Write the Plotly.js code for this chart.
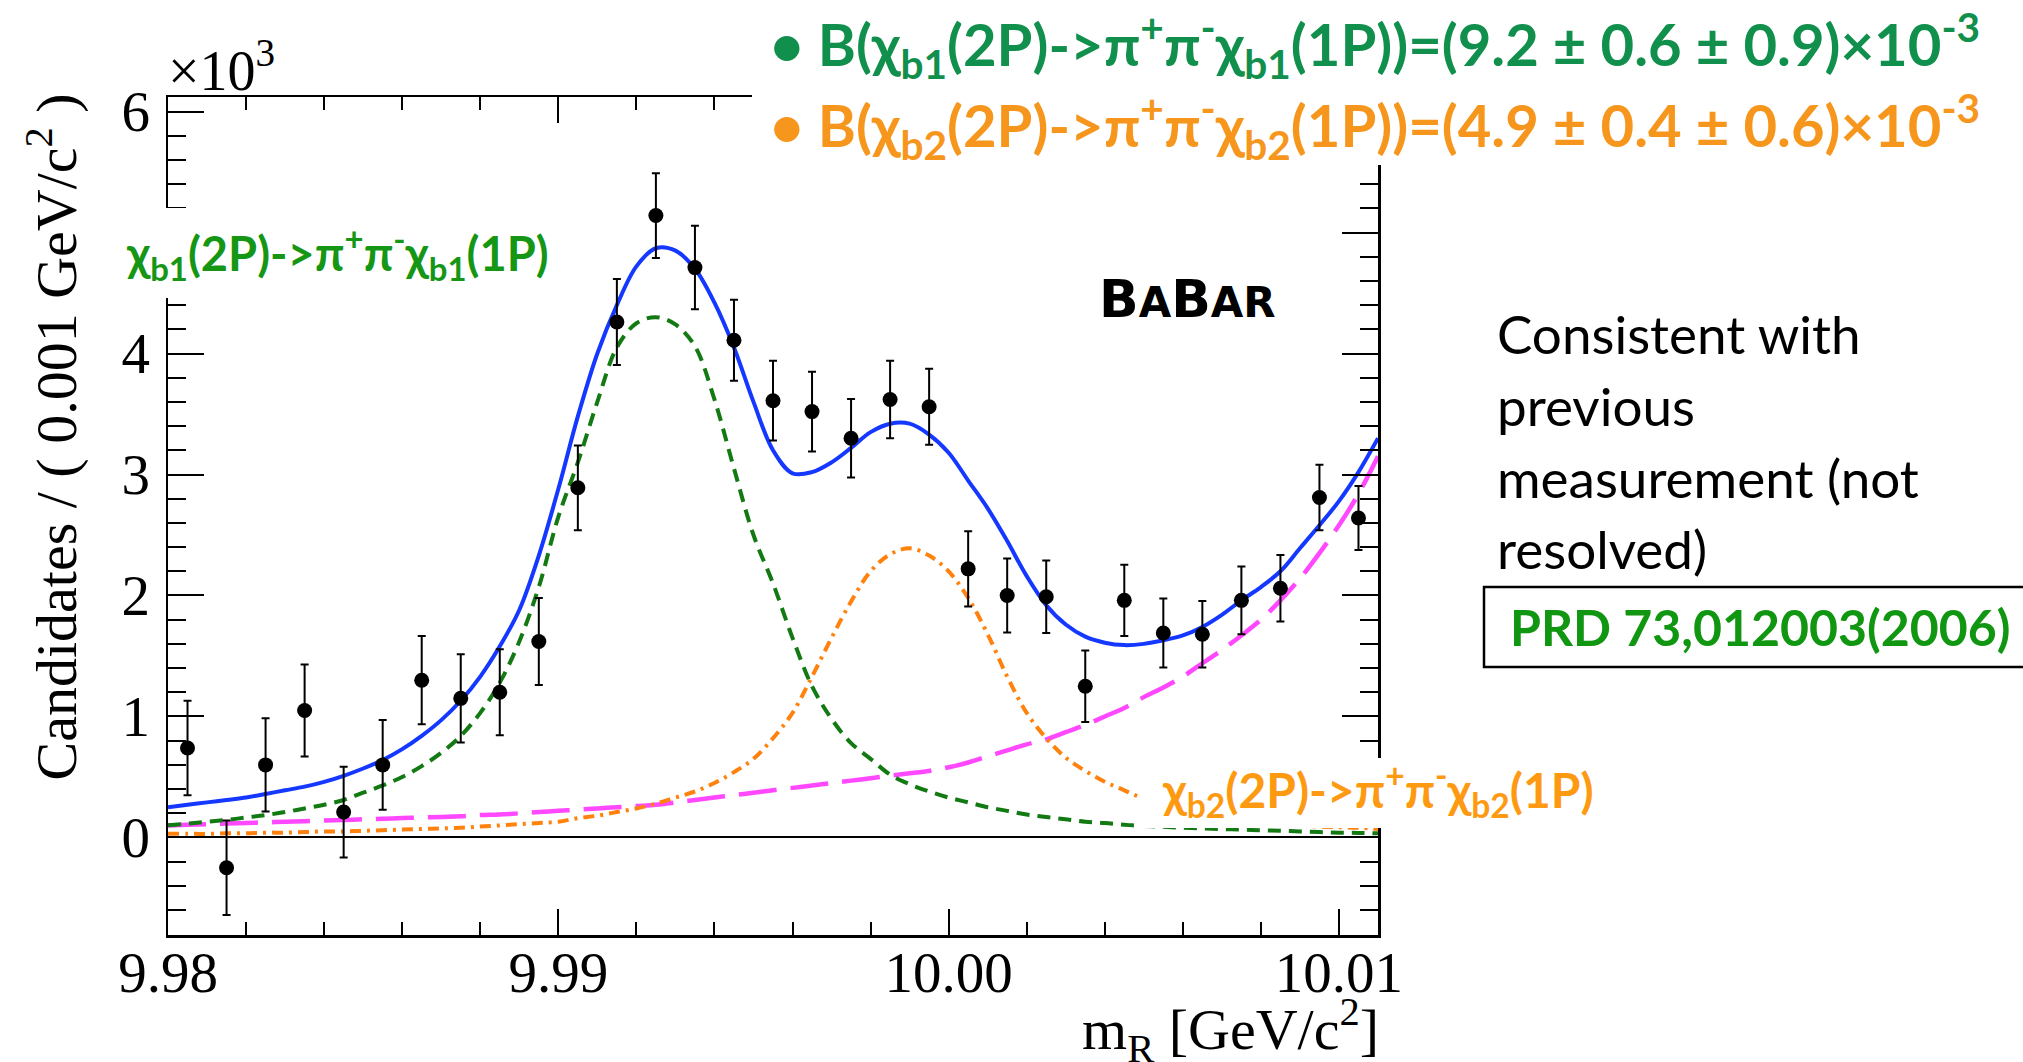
<!DOCTYPE html>
<html>
<head>
<meta charset="utf-8">
<script src="https://cdn.plot.ly/plotly-3.0.1.min.js"></script>
<style>html,body{margin:0;padding:0;background:#fff;}#chart{width:2023px;height:1062px;}</style>
</head>
<body>
<div id="chart"></div>
<script>
// ---- data (y in units of 10^3 candidates per 0.001 GeV/c^2) ----
const binCenters = [9.9805,9.9815,9.9825,9.9835,9.9845,9.9855,9.9865,9.9875,9.9885,9.9895,
  9.9905,9.9915,9.9925,9.9935,9.9945,9.9955,9.9965,9.9975,9.9985,9.9995,
  10.0005,10.0015,10.0025,10.0035,10.0045,10.0055,10.0065,10.0075,10.0085,10.0095,10.0105];
const counts = [0.74,-0.25,0.60,1.05,0.21,0.60,1.30,1.15,1.20,1.62,
  2.89,4.26,5.14,4.71,4.11,3.61,3.52,3.30,3.62,3.56,
  2.22,2.00,1.99,1.25,1.96,1.69,1.68,1.96,2.06,2.81,2.64];
const countErrs = [0.39,0.39,0.385,0.38,0.375,0.37,0.365,0.365,0.355,0.36,
  0.35,0.355,0.35,0.345,0.335,0.33,0.33,0.325,0.32,0.315,
  0.31,0.305,0.30,0.295,0.295,0.285,0.275,0.28,0.275,0.27,0.265];

const curveX = [9.9800,9.9805,9.9810,9.9815,9.9820,9.9825,9.9830,9.9835,9.9840,9.9845,
  9.9850,9.9855,9.9860,9.9865,9.9870,9.9875,9.9880,9.9885,9.9890,9.9895,
  9.9900,9.9905,9.9910,9.9915,9.9920,9.9925,9.9930,9.9935,9.9940,9.9945,
  9.9950,9.9955,9.9960,9.9965,9.9970,9.9975,9.9980,9.9985,9.9990,9.9995,
  10.0000,10.0005,10.0010,10.0015,10.0020,10.0025,10.0030,10.0035,10.0040,10.0045,
  10.0050,10.0055,10.0060,10.0065,10.0070,10.0075,10.0080,10.0085,10.0090,10.0095,
  10.0100,10.0105,10.0110];
const totalFit = [0.25,0.27,0.29,0.31,0.33,0.36,0.39,0.42,0.46,0.51,
  0.57,0.64,0.73,0.84,0.97,1.13,1.33,1.58,1.88,2.33,
  2.88,3.48,4.00,4.40,4.72,4.87,4.85,4.70,4.42,4.05,
  3.60,3.20,3.01,3.02,3.10,3.22,3.35,3.42,3.42,3.33,
  3.18,2.95,2.72,2.45,2.16,1.92,1.76,1.66,1.61,1.59,
  1.60,1.63,1.67,1.74,1.84,1.96,2.07,2.20,2.39,2.58,
  2.78,3.02,3.30];
const chib1Fit = [0.10,0.115,0.13,0.145,0.165,0.185,0.21,0.24,0.27,0.31,
  0.37,0.43,0.50,0.59,0.70,0.84,1.03,1.28,1.62,2.07,
  2.65,3.10,3.60,4.05,4.25,4.30,4.24,4.06,3.62,3.05,
  2.50,2.10,1.65,1.25,0.98,0.78,0.65,0.52,0.44,0.38,
  0.33,0.29,0.25,0.22,0.19,0.17,0.15,0.13,0.12,0.105,
  0.095,0.088,0.08,0.075,0.07,0.065,0.06,0.055,0.05,0.045,
  0.04,0.038,0.035];
const chib2Fit = [0.03,0.03,0.03,0.035,0.035,0.04,0.04,0.045,0.05,0.05,
  0.055,0.06,0.065,0.07,0.075,0.08,0.09,0.10,0.11,0.12,
  0.13,0.16,0.18,0.21,0.24,0.28,0.33,0.38,0.45,0.54,
  0.65,0.82,1.03,1.33,1.65,1.95,2.20,2.34,2.39,2.33,
  2.20,1.98,1.68,1.33,1.03,0.82,0.66,0.55,0.46,0.39,
  0.32,0.27,0.23,0.20,0.17,0.15,0.13,0.12,0.10,0.09,
  0.085,0.08,0.07];
const bkgFit = [0.10,0.105,0.11,0.115,0.12,0.125,0.13,0.135,0.14,0.145,
  0.15,0.155,0.16,0.165,0.17,0.175,0.185,0.19,0.20,0.21,
  0.22,0.23,0.24,0.25,0.26,0.27,0.29,0.31,0.33,0.35,
  0.37,0.39,0.41,0.43,0.45,0.47,0.49,0.51,0.53,0.55,
  0.58,0.62,0.67,0.72,0.77,0.81,0.87,0.93,1.00,1.07,
  1.16,1.24,1.33,1.44,1.55,1.67,1.80,1.96,2.14,2.35,
  2.58,2.84,3.15];

const xTickVals = [9.98, 9.99, 10.00, 10.01];
const xTickText = ['9.98', '9.99', '10.00', '10.01'];
const yTickVals = [0, 1, 2, 3, 4, 5, 6];
const yTickText = ['0', '1', '2', '3', '4', '5', '6'];

// ---- layout geometry (pixels) ----
const FIG_W = 2023, FIG_H = 1062;
const L = 168, R = 1378, T = 97, B = 935;
const PW = R - L, PH = B - T;
const px = v => (v - L) / PW;          // pixel x -> paper x
const py = v => (B - v) / PH;          // pixel y -> paper y

const serif = 'Liberation Serif, Times New Roman, serif';
const sans = 'Lato, Open Sans, sans-serif';

const traces = [
  {x: curveX, y: bkgFit, mode: 'lines', line: {color: '#ff48ff', width: 4.5, dash: '38px,14px', shape: 'spline'}, hoverinfo: 'skip'},
  {x: curveX, y: chib2Fit, mode: 'lines', line: {color: '#ff820f', width: 4, dash: '11px,6px,3px,6px', shape: 'spline'}, hoverinfo: 'skip'},
  {x: curveX, y: chib1Fit, mode: 'lines', line: {color: '#137a13', width: 4, dash: '13px,8px', shape: 'spline'}, hoverinfo: 'skip'},
  {x: curveX, y: totalFit, mode: 'lines', line: {color: '#1438ff', width: 4, shape: 'spline'}, hoverinfo: 'skip'},
  {x: binCenters, y: counts, mode: 'markers', marker: {color: 'black', size: 15},
   error_y: {type: 'data', array: countErrs, visible: true, color: 'black', thickness: 2, width: 4}}
];

const layout = {
  width: FIG_W, height: FIG_H, autosize: false,
  margin: {l: L, r: FIG_W - R, t: T, b: FIG_H - B, pad: 0},
  paper_bgcolor: 'white', plot_bgcolor: 'white',
  showlegend: false,
  font: {family: serif, color: 'black'},
  xaxis: {
    range: [9.98, 10.011], tickmode: 'array', tickvals: xTickVals, ticktext: xTickText,
    ticks: 'inside', ticklen: 26, tickwidth: 2, tickcolor: 'black',
    showline: true, linewidth: 2.5, linecolor: 'black', mirror: 'ticks',
    showgrid: false, zeroline: false,
    tickfont: {family: serif, size: 57, color: 'black'}, ticklabelstandoff: -14,
    minor: {dtick: 0.002, tick0: 9.98, ticks: 'inside', ticklen: 13, tickwidth: 2, tickcolor: 'black', showgrid: false}
  },
  yaxis: {
    range: [-0.806, 6.12], tickmode: 'array', tickvals: yTickVals, ticktext: yTickText,
    ticks: 'inside', ticklen: 36, tickwidth: 2, tickcolor: 'black',
    showline: true, linewidth: 2.5, linecolor: 'black', mirror: 'ticks',
    showgrid: false, zeroline: true, zerolinecolor: 'black', zerolinewidth: 2,
    tickfont: {family: serif, size: 57, color: 'black'}, ticklabelstandoff: 4,
    minor: {dtick: 0.2, tick0: 0, ticks: 'inside', ticklen: 18, tickwidth: 2, tickcolor: 'black', showgrid: false}
  },
  shapes: [
    {type: 'rect', xref: 'paper', yref: 'paper', x0: px(112), x1: px(570), y0: py(298), y1: py(208), fillcolor: 'white', line: {width: 0}, layer: 'above'},
    {type: 'rect', xref: 'paper', yref: 'paper', x0: px(1140), x1: px(1610), y0: py(828), y1: py(758), fillcolor: 'white', line: {width: 0}, layer: 'above'},
    {type: 'rect', xref: 'paper', yref: 'paper', x0: px(752), x1: px(2030), y0: py(165), y1: py(-5), fillcolor: 'white', line: {width: 0}, layer: 'above'},
    {type: 'rect', xref: 'paper', yref: 'paper', x0: px(1484), x1: px(2040), y0: py(667), y1: py(587), fillcolor: 'white', line: {width: 2.5, color: 'black'}, layer: 'above'}
  ],
  annotations: [
    {text: '×10<sup>3</sup>', xref: 'paper', yref: 'paper', x: px(166), y: py(104), xanchor: 'left', yanchor: 'bottom', showarrow: false, font: {family: serif, size: 56, color: 'black'}},
    {text: 'Candidates / ( 0.001 GeV/c<sup>2</sup> )', xref: 'paper', yref: 'paper', x: px(52), y: py(92), xanchor: 'center', yanchor: 'top', textangle: -90, showarrow: false, font: {family: serif, size: 58, color: 'black'}},
    {text: 'm<sub>R</sub> [GeV/c<sup>2</sup>]', xref: 'paper', yref: 'paper', x: px(1381), y: py(1030), xanchor: 'right', yanchor: 'middle', showarrow: false, font: {family: serif, size: 58, color: 'black'}},
    {text: '<b>χ<sub>b1</sub>(2P)->π<sup>+</sup>π<sup>-</sup>χ<sub>b1</sub>(1P)</b>', xref: 'paper', yref: 'paper', x: px(124), y: py(254), xanchor: 'left', yanchor: 'middle', showarrow: false, font: {family: sans, size: 47, color: '#159615'}},
    {text: '<b>χ<sub>b2</sub>(2P)->π<sup>+</sup>π<sup>-</sup>χ<sub>b2</sub>(1P)</b>', xref: 'paper', yref: 'paper', x: px(1160), y: py(790), xanchor: 'left', yanchor: 'middle', showarrow: false, font: {family: sans, size: 48, color: '#fd9a12'}},
    {text: '<b>B<span style="font-size:42px">A</span>B<span style="font-size:42px">AR</span></b>', xref: 'paper', yref: 'paper', x: px(1187), y: py(299), xanchor: 'center', yanchor: 'middle', showarrow: false, font: {family: 'DejaVu Sans, sans-serif', size: 52, color: 'black'}},
    {text: '<b>• B(χ<sub>b1</sub>(2P)->π<sup>+</sup>π<sup>-</sup>χ<sub>b1</sub>(1P))=(9.2 ± 0.6 ± 0.9)×10<sup>-3</sup></b>', xref: 'paper', yref: 'paper', x: px(768), y: py(45), xanchor: 'left', yanchor: 'middle', showarrow: false, font: {family: sans, size: 58, color: '#10904c'}},
    {text: '<b>• B(χ<sub>b2</sub>(2P)->π<sup>+</sup>π<sup>-</sup>χ<sub>b2</sub>(1P))=(4.9 ± 0.4 ± 0.6)×10<sup>-3</sup></b>', xref: 'paper', yref: 'paper', x: px(768), y: py(126), xanchor: 'left', yanchor: 'middle', showarrow: false, font: {family: sans, size: 58, color: '#f7961c'}},
    {text: 'Consistent with', xref: 'paper', yref: 'paper', x: px(1495), y: py(333), xanchor: 'left', yanchor: 'middle', showarrow: false, font: {family: sans, size: 53, color: 'black'}},
    {text: 'previous', xref: 'paper', yref: 'paper', x: px(1495), y: py(405), xanchor: 'left', yanchor: 'middle', showarrow: false, font: {family: sans, size: 53, color: 'black'}},
    {text: 'measurement (not', xref: 'paper', yref: 'paper', x: px(1495), y: py(477), xanchor: 'left', yanchor: 'middle', showarrow: false, font: {family: sans, size: 53, color: 'black'}},
    {text: 'resolved)', xref: 'paper', yref: 'paper', x: px(1495), y: py(548), xanchor: 'left', yanchor: 'middle', showarrow: false, font: {family: sans, size: 53, color: 'black'}},
    {text: '<b>PRD 73,012003(2006)</b>', xref: 'paper', yref: 'paper', x: px(1760), y: py(627), xanchor: 'center', yanchor: 'middle', showarrow: false, font: {family: sans, size: 50, color: '#119611'}}
  ]
};

Plotly.newPlot('chart', traces, layout, {staticPlot: true, displayModeBar: false});
</script>
</body>
</html>
